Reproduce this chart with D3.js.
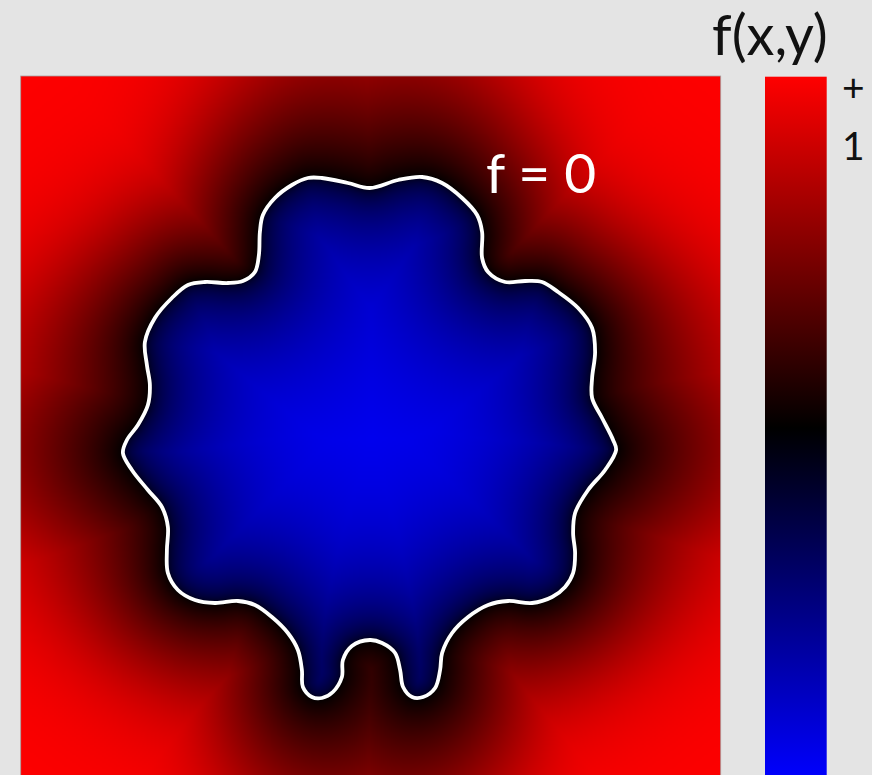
<!DOCTYPE html>
<html>
<head>
<meta charset="utf-8">
<script src="https://cdn.jsdelivr.net/npm/d3@7"></script>
<style>
  html, body { margin: 0; padding: 0; background: #e4e4e4; }
  svg { display: block; }
</style>
</head>
<body>
<svg id="chart" width="872" height="775"></svg>
<script>
// Zero level set of f(x,y): boundary points, traced clockwise from the top.
const contourX = [
  -0.004, 0.137, 0.257, 0.357, 0.457, 0.532, 0.557, 0.557, 0.587, 0.672,
   0.772, 0.857, 0.937, 1.037, 1.107, 1.122, 1.107, 1.107, 1.157, 1.212,
   1.227, 1.172, 1.087, 1.022, 1.012, 1.022, 1.012, 0.972, 0.907, 0.807,
   0.687, 0.587, 0.487, 0.407, 0.357, 0.347, 0.322, 0.262, 0.207, 0.162,
   0.147, 0.122, 0.057, -0.004, -0.094, -0.139, -0.144, -0.189, -0.244, -0.294,
  -0.339, -0.344, -0.364, -0.414, -0.494, -0.579, -0.664, -0.779, -0.879, -0.964,
  -1.014, -1.019, -1.014, -1.044, -1.114, -1.194, -1.239, -1.219, -1.164, -1.114,
  -1.104, -1.119, -1.129, -1.079, -0.994, -0.914, -0.829, -0.714, -0.639, -0.579,
  -0.559, -0.554, -0.539, -0.479, -0.394, -0.314, -0.244, -0.114
];
const contourY = [
   1.190, 1.230, 1.245, 1.215, 1.140, 1.055, 0.970, 0.840, 0.770, 0.720,
   0.725, 0.720, 0.670, 0.590, 0.490, 0.370, 0.240, 0.140, 0.040, -0.070,
  -0.120, -0.220, -0.320, -0.435, -0.535, -0.635, -0.735, -0.805, -0.855, -0.885,
  -0.875, -0.895, -0.955, -1.035, -1.135, -1.220, -1.310, -1.355, -1.355, -1.305,
  -1.220, -1.135, -1.085, -1.070, -1.100, -1.170, -1.255, -1.330, -1.360, -1.355,
  -1.305, -1.220, -1.120, -1.035, -0.955, -0.895, -0.875, -0.885, -0.870, -0.820,
  -0.735, -0.620, -0.505, -0.405, -0.320, -0.220, -0.135, -0.070, 0.005, 0.105,
   0.205, 0.305, 0.420, 0.540, 0.640, 0.705, 0.720, 0.715, 0.725, 0.770,
   0.855, 0.970, 1.055, 1.140, 1.205, 1.240, 1.240, 1.215
];

// Centre of the interface (plot units)
const centre = [0, -0.095];

// Colour scale: negative (inside) blue, zero black, positive (outside) red.
const fStops = [-1.25, 0, 1.25];
const colorStops = ["#0000ff", "#000000", "#ff0000"];

// Profile of f against distance d from the interface (plot units)
const insideReach = 0.8, insideExp = 0.45;
const outsideReach = 1.1, outsideExp = 0.8, diagonalBoost = 0.6;

// Colour bar labels
const tickValues = [1.21, 1];
const tickLabels = ["+", "1"];
const colorbarTitle = "f(x,y)";
const contourLabel = "f = 0";

const W = 872, H = 775;
const plot = { x0: 20.7, y0: 76, size: 700 };
const bar = { x0: 765, width: 61.7, top: 76.7 };
const FONT = "Lato, 'Open Sans', sans-serif";

const x = d3.scaleLinear().domain([-1.75, 1.75]).range([plot.x0, plot.x0 + plot.size]);
const y = d3.scaleLinear().domain([-1.75, 1.75]).range([plot.y0 + plot.size, plot.y0]);
const color = d3.scaleLinear().domain(fStops).range(colorStops).clamp(true);
const cb = d3.scaleLinear().domain([fStops[0], fStops[2]]).range([780, 76]);

const svg = d3.select("#chart");
svg.append("rect").attr("width", W).attr("height", H).attr("fill", "#e4e4e4");

// Smooth closed interface through the traced points
const pts = contourX.map((v, i) => [x(v), y(contourY[i])]);
const line = d3.line().curve(d3.curveCatmullRomClosed.alpha(0.5));
const pathD = line(pts);

const probe = svg.append("path").attr("d", pathD).attr("fill", "none");
const node = probe.node();
const L = node.getTotalLength();
const N = 600;
const bx = new Float64Array(N), by = new Float64Array(N);
for (let i = 0; i < N; i++) {
  const p = node.getPointAtLength(L * i / N);
  bx[i] = p.x; by[i] = p.y;
}
probe.remove();

const cx = x(centre[0]), cy = y(centre[1]);
const unit = x(1) - x(0);

// Soft saturation towards the end of the colour range
const soften = v => v / Math.pow(1 + Math.pow(v, 6), 1 / 6);

// f from signed distance: negative inside the interface, positive outside
function levelSet(dist, inside, px, py) {
  const fMax = fStops[2];
  if (inside) return -fMax * soften(Math.pow(dist / insideReach, insideExp));
  const th = Math.atan2(py - cy, px - cx);
  const k = 1 + diagonalBoost * Math.pow(Math.sin(2 * th), 2);
  return fMax * soften(Math.pow(dist * k / outsideReach, outsideExp));
}

const step = 2, G = Math.round(plot.size / step);
const canvas = document.createElement("canvas");
canvas.width = G; canvas.height = G;
const ctx = canvas.getContext("2d");
const img = ctx.createImageData(G, G);
for (let j = 0; j < G; j++) {
  const py = plot.y0 + (j + 0.5) * step;
  for (let i = 0; i < G; i++) {
    const px = plot.x0 + (i + 0.5) * step;
    let best = Infinity, inside = false;
    for (let k = 0, m = N - 1; k < N; m = k++) {
      const ax = bx[m], ay = by[m], ex0 = bx[k], ey0 = by[k];
      const dx = ex0 - ax, dy = ey0 - ay;
      let t = ((px - ax) * dx + (py - ay) * dy) / (dx * dx + dy * dy || 1);
      t = t < 0 ? 0 : t > 1 ? 1 : t;
      const ex = ax + t * dx - px, ey = ay + t * dy - py;
      const d2 = ex * ex + ey * ey;
      if (d2 < best) best = d2;
      if ((ay > py) !== (ey0 > py) && px < ax + (py - ay) * dx / dy) inside = !inside;
    }
    const c = d3.rgb(color(levelSet(Math.sqrt(best) / unit, inside, px, py)));
    const o = (j * G + i) * 4;
    img.data[o] = c.r; img.data[o + 1] = c.g; img.data[o + 2] = c.b; img.data[o + 3] = 255;
  }
}
ctx.putImageData(img, 0, 0);

svg.append("image")
  .attr("x", plot.x0).attr("y", plot.y0)
  .attr("width", plot.size).attr("height", plot.size)
  .attr("preserveAspectRatio", "none")
  .attr("href", canvas.toDataURL());

svg.append("rect")
  .attr("x", plot.x0).attr("y", plot.y0)
  .attr("width", plot.size).attr("height", plot.size)
  .attr("fill", "none").attr("stroke", "#a8a0a0").attr("stroke-width", 0.8);

// Zero contour
svg.append("path")
  .attr("d", pathD)
  .attr("fill", "none")
  .attr("stroke", "#ffffff")
  .attr("stroke-width", 3.8)
  .attr("stroke-linejoin", "round");

svg.append("text")
  .attr("x", 486).attr("y", 193)
  .attr("font-family", FONT).attr("font-size", 55)
  .attr("fill", "#ffffff")
  .text(contourLabel);

// Colour bar
const defs = svg.append("defs");
const grad = defs.append("linearGradient")
  .attr("id", "cbGrad")
  .attr("gradientUnits", "userSpaceOnUse")
  .attr("x1", 0).attr("x2", 0)
  .attr("y1", cb(fStops[2])).attr("y2", cb(fStops[0]));
const span = cb(fStops[0]) - cb(fStops[2]);
fStops.slice().reverse().forEach(v => {
  grad.append("stop")
    .attr("offset", (cb(v) - cb(fStops[2])) / span)
    .attr("stop-color", color(v));
});

svg.append("rect")
  .attr("x", bar.x0).attr("y", bar.top)
  .attr("width", bar.width).attr("height", H - bar.top)
  .attr("fill", "url(#cbGrad)");

svg.selectAll("text.tick")
  .data(tickValues)
  .join("text")
  .attr("class", "tick")
  .attr("x", 842)
  .attr("y", d => cb(d))
  .attr("dy", "0.36em")
  .attr("font-family", FONT).attr("font-size", 39)
  .attr("fill", "#111")
  .text((d, i) => tickLabels[i]);

svg.append("text")
  .attr("x", 712).attr("y", 55)
  .attr("font-family", FONT).attr("font-size", 56)
  .attr("fill", "#111")
  .text(colorbarTitle);
</script>
</body>
</html>
